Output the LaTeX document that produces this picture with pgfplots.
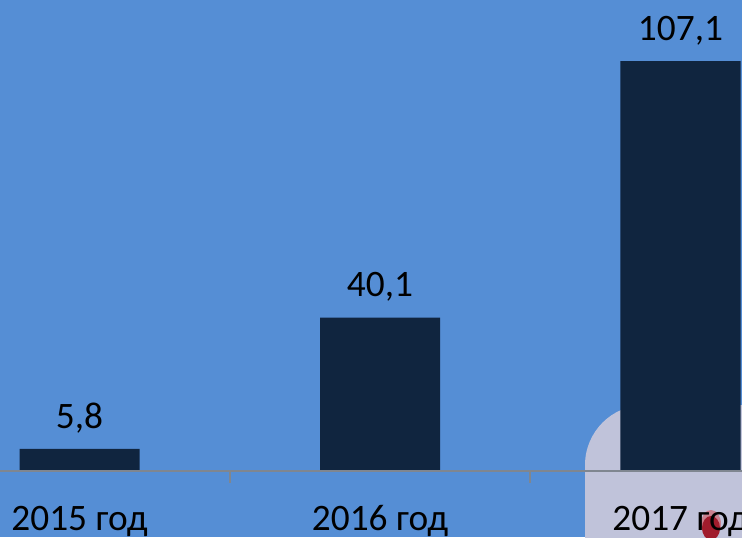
\documentclass[border=0pt]{standalone}
\usepackage{fontspec}
\setmainfont{Carlito}
\usepackage{pgfplots}
\pgfplotsset{compat=1.18}
\definecolor{bgblue}{HTML}{558ED5}
\definecolor{bardark}{HTML}{10253F}
\definecolor{lavender}{HTML}{C0C3DA}
\definecolor{axisgrey}{HTML}{7F8690}
\definecolor{blobred}{HTML}{A01C2C}
\definecolor{blobpink}{HTML}{C9808E}
\begin{document}
\begin{tikzpicture}[x=0.75pt,y=0.75pt]
    % picture frame in reference pixels, y counted from the bottom
    \clip (0,0) rectangle (742,537);
    \fill[bgblue] (0,0) rectangle (742,537);
    \fill[lavender, rounded corners=45pt] (585,-60) rectangle (800,132);
    \fill[blobpink] (711,13) ellipse (10 and 14);
    \fill[blobred] (711,9) ellipse (9 and 12);
    \begin{axis}[
        at={(0,0)}, anchor=south west,
        scale only axis,
        width=556.5pt, height=402.75pt,
        xmin=-0.2646, xmax=2.2047,
        ymin=-17.2, ymax=123.08,
        axis x line=none, axis y line=none,
        ybar, bar width=90pt,
        nodes near coords,
        point meta=explicit symbolic,
        every node near coord/.append style={font=\fontsize{28}{30}\selectfont,
            text=black, yshift=8.5pt},
        clip=false,
    ]
        \addplot[draw=none, fill=bardark] table[x=x, y=y, meta=lab] {
            x  y      lab
            0  5.8    {5,8}
            1  40.1   {40,1}
            2  107.1  {107,1}
        };
        % baseline, separators and category names
        \draw[axisgrey, line width=1.5pt] (axis cs:-0.2646,0) -- (axis cs:2.2047,0);
        \draw[axisgrey, line width=1.4pt] (axis cs:0.5,0) -- (axis cs:0.5,-3);
        \draw[axisgrey, line width=1.4pt] (axis cs:1.5,0) -- (axis cs:1.5,-3);
        \node[font=\fontsize{28}{30}\selectfont, inner sep=0pt, anchor=base, text=black]
            at ([yshift=-44.5pt]axis cs:0,0) {2015 год};
        \node[font=\fontsize{28}{30}\selectfont, inner sep=0pt, anchor=base, text=black]
            at ([yshift=-44.5pt]axis cs:1,0) {2016 год};
        \node[font=\fontsize{28}{30}\selectfont, inner sep=0pt, anchor=base, text=black]
            at ([yshift=-44.5pt]axis cs:2,0) {2017 год};
    \end{axis}
\end{tikzpicture}
\end{document}
